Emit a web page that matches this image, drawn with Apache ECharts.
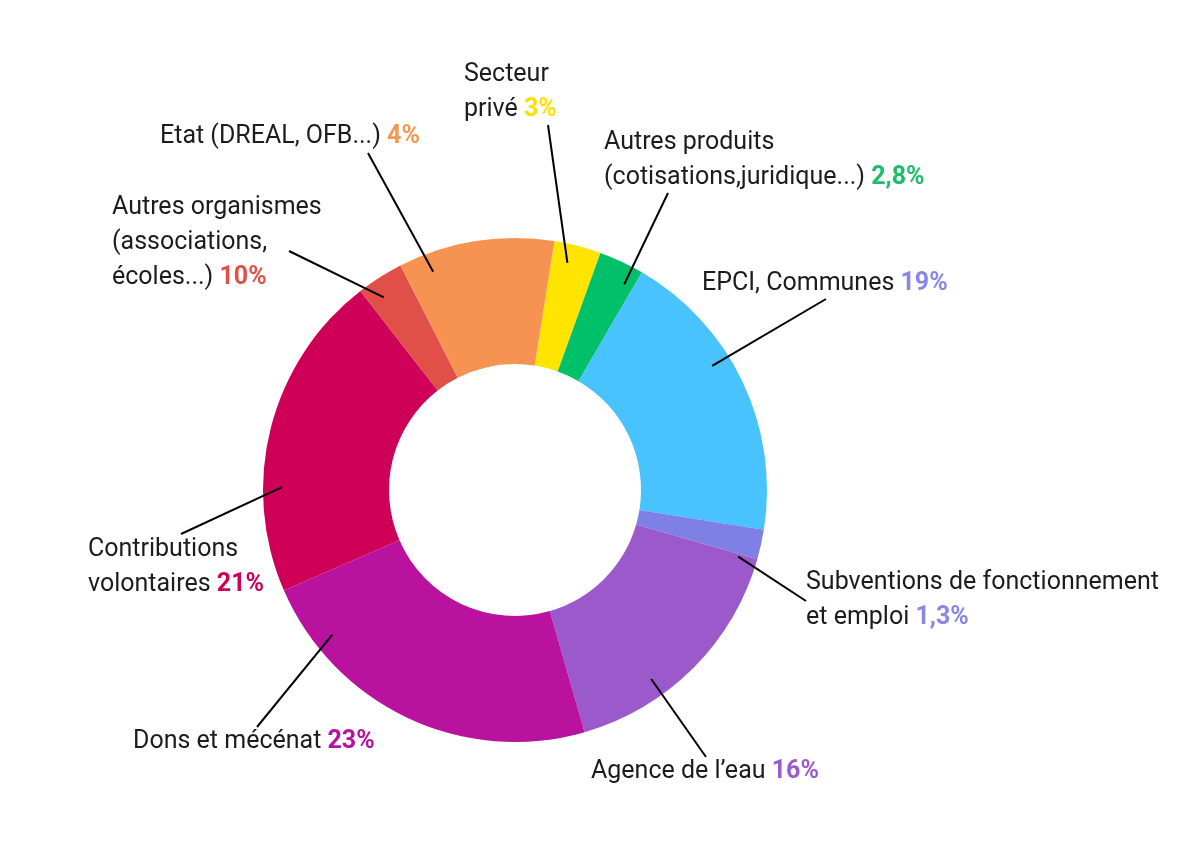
<!DOCTYPE html>
<html>
<head>
<meta charset="utf-8">
<script src="https://cdn.jsdelivr.net/npm/echarts@6/dist/echarts.min.js"></script>
<style>
    html, body { margin: 0; padding: 0; background: #fff; }
    #chart { width: 1200px; height: 848px; }
</style>
</head>
<body>
<div id="chart"></div>
<script>
// categories, clockwise from the top
const names = [
    'Secteur\nprivé',
    'Autres produits\n(cotisations,juridique...)',
    'EPCI, Communes',
    'Subventions de fonctionnement\net emploi',
    'Agence de l\u2019eau',
    'Dons et mécénat',
    'Contributions\nvolontaires',
    'Autres organismes\n(associations,\nécoles...)',
    'Etat (DREAL, OFB...)'
]
// slice sizes as drawn (%)
const values = [3, 2.9, 19.1, 1.9, 16.1, 22.9, 21, 3, 10]
// percentages printed in the labels
const pctLabels = ['3%', '2,8%', '19%', '1,3%', '16%', '23%', '21%', '10%', '4%']

const sliceColors = ['#ffe400', '#00c16a', '#48c3fd', '#7f80e6', '#9b59cc', '#b8129e', '#cf0058', '#e05048', '#f69352']
const pctColors = ['#ffe100', '#1dbd6a', '#8a86e8', '#8a86e8', '#9b5bd0', '#b811a0', '#d0005a', '#e0514a', '#f79552']

// label placement: top-left of text block, where the leader line ends,
// and where along its slice (0..1) the leader line starts
const labelPos = [
    { x: 464, y: 57, end: [548, 125], frac: 0.37 },
    { x: 604, y: 125, end: [668, 193], frac: 0.78 },
    { x: 702, y: 266, end: [826, 299], frac: 0.40 },
    { x: 806, y: 565, end: [806, 601], frac: 1.1 },
    { x: 591, y: 754, end: [706, 757], frac: 0.66 },
    { x: 133, y: 724, end: [257, 727], frac: 0.82 },
    { x: 88, y: 532, end: [181, 534], frac: 0.32 },
    { x: 112, y: 190, end: [289, 251], frac: 0.33 },
    { x: 160, y: 119, end: [368, 153], frac: 0.18 }
]

const cx = 515, cy = 490, rIn = 126, rOut = 252, firstAngle = 9
const font = 'Roboto, "Noto Sans", sans-serif'

const total = values.reduce((a, b) => a + b, 0)
const anchorOf = function (i) {
    let a0 = firstAngle
    for (let k = 0; k < i; k++) a0 += values[k] / total * 360
    const a = (a0 + labelPos[i].frac * values[i] / total * 360) * Math.PI / 180
    const r = 233
    return [cx + r * Math.sin(a), cy - r * Math.cos(a)]
}

const pieData = names.map((n, i) => ({ name: n, value: values[i] }))

const chart = echarts.init(document.getElementById('chart'))
chart.setOption({
    backgroundColor: '#fff',
    animation: false,
    series: [
        {
            // the ring
            type: 'pie',
            center: [cx, cy],
            radius: [rIn, rOut],
            startAngle: 90 - firstAngle,
            clockwise: true,
            silent: true,
            label: { show: false },
            labelLine: { show: false },
            data: pieData.map((d, i) => Object.assign({}, d, { itemStyle: { color: sliceColors[i] } }))
        },
        {
            // labels and leader lines, drawn above the ring
            type: 'pie',
            z: 5,
            center: [cx, cy],
            radius: [rIn, rOut],
            startAngle: 90 - firstAngle,
            clockwise: true,
            silent: true,
            avoidLabelOverlap: false,
            itemStyle: { color: 'rgba(0,0,0,0)' },
            data: pieData,
            label: {
                show: true,
                position: 'outside',
                formatter: p => '{n|' + names[p.dataIndex] + ' }{p' + p.dataIndex + '|' + pctLabels[p.dataIndex] + '}',
                rich: Object.assign({
                    n: { fontFamily: font, fontSize: 25, lineHeight: 35, color: '#1c1c1c' }
                }, Object.fromEntries(pctColors.map((c, i) => ['p' + i, {
                    fontFamily: font, fontSize: 25, lineHeight: 35, fontWeight: 'bold', color: c
                }])))
            },
            labelLine: {
                show: true,
                length: 10,
                length2: 10,
                lineStyle: { color: '#000', width: 2 }
            },
            labelLayout: function (params) {
                const i = params.dataIndex
                const pos = labelPos[i]
                const start = anchorOf(i)
                return {
                    x: pos.x,
                    y: pos.y,
                    align: 'left',
                    verticalAlign: 'top',
                    labelLinePoints: [start, pos.end, pos.end]
                }
            }
        }
    ]
})
</script>
</body>
</html>
